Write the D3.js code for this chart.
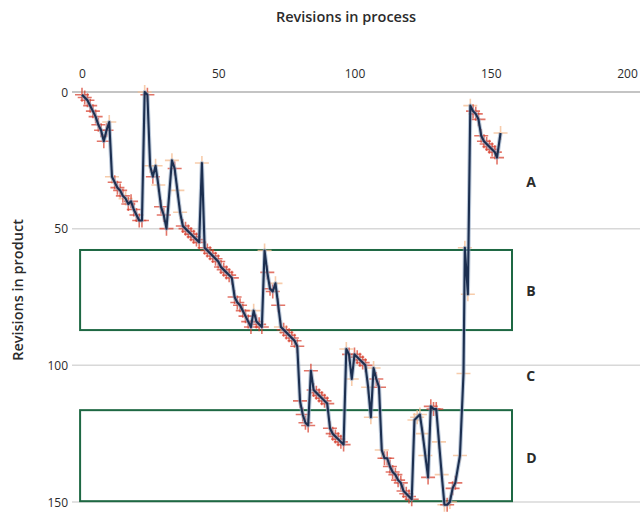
<!DOCTYPE html>
<html lang="en">
<head>
<meta charset="UTF-8">
<title>Revisions in process vs product</title>
<script src="https://d3js.org/d3.v7.min.js"></script>
<style>
  body { margin: 0; background: #fff; }
  text { font-family: "Open Sans", "Noto Sans", sans-serif; fill: #2b2b2b; }
</style>
</head>
<body>
<div id="chart"></div>
<script>
// revisions in process (x) and revisions in product (y), one entry per point
const processRev = [0,1,2,3,4,5,6,7,8,9,10,11,12,13,14,15,16,17,18,19,20,21,22,23,24,25,26,27,28,29,30,31,
  33,34,35,36,37,38,39,40,41,42,43,44,45,46,47,48,49,50,51,52,53,54,55,56,57,58,59,60,61,62,63,64,65,66,
  67,68,69,70,71,72,73,74,75,76,77,78,79,80,81,82,83,84,85,86,87,88,89,90,91,92,93,94,95,96,97,98,99,100,
  101,102,103,104,105,106,107,108,109,110,111,112,113,114,115,116,117,118,119,120,121,122,123,124,125,126,
  127,128,129,130,131,132,133,134,135,136,137,138.7,140,140.5,141.6,142.5,143.5,144.5,145.5,146.5,147.5,
  148.5,149.5,150.5,151.5,152.3,153.6];
const productRev = [1,2,3,5,7,9,12,14,18,14,11,31,33,35,36,38,39,41,40,43,45,47,47,0,1,27,31,27,34,42,45,50,
  25,28,36,44,49,50,51,52,53,54,55,26,57,58,59,60,61,62,64,65,66,67,68,75,77,78,80,82,84,86,80,84,85,86,
  58,66,72,73,70,78,86,87,88,89,90,91,93,113,118,121,122,102,109,110,111,112,113,114,123,125,126,127,128,129,94,96,105,96,
  97,98,99,100,108,119,101,105,108,131,134,134,137,139,140,142,143,146,147,148,149,120,119,118,125,133,
  141,115,116,116,128,140,151,151,150,145,143,133,103,57,74,5,7,8,10,16,18,
  19,20,21,22,24,15];
// r = dark red marker, p = pale marker
const markerType = ["r","r","r","r","r","r","r","r","r","r","p","p","r","r","r","r","p","r","r","r","r","r","r","p","r","p","r","p","p","r","r","r",
  "p","r","p","p","r","r","r","r","r","r","r","p","r","r","r","r","r","r","r","r","r","r","r","r","r","r","r","r","r","r","p","r","r","r",
  "p","r","r","r","p","r","p","r","r","r","r","r","r","r","r","r","r","r","r","r","r","r","r","r","r","r","r","r","r","r","p","r","p","r",
  "r","r","r","r","p","p","p","r","r","p","r","r","r","r","r","r","r","r","r","r","r","p","p","p","p","p",
  "r","r","r","r","p","p","p","r","p","r","r","p","p","p","p","p","r","r","r","r","r",
  "r","r","r","r","r","p"];

const xTicks = [0, 50, 100, 150, 200];
const yTicks = [0, 50, 100, 150];

// highlighted bands [x0, x1, y0, y1] in data units
const bands = [[-0.7, 157.8, 57.8, 87.1], [-0.7, 157.8, 116.4, 149.7]];
const zoneLabels = ["A", "B", "C", "D"];
const zoneLabelY = [33, 73, 104, 134];

const W = 643, H = 514;
const svg = d3.select("#chart").append("svg").attr("width", W).attr("height", H);

const x = d3.scaleLinear().domain([0, 200]).range([82, 627]);
const y = d3.scaleLinear().domain([0, 150]).range([92, 502]);

// grid lines
svg.append("g").selectAll("line")
  .data(yTicks)
  .join("line")
    .attr("x1", 72).attr("x2", 640)
    .attr("y1", d => y(d)).attr("y2", d => y(d))
    .attr("stroke", d => d === 0 ? "#8a8a8a" : "#d8d8d8")
    .attr("stroke-width", d => d === 0 ? 1.2 : 1.5);

// axes (labels only)
const xAxis = svg.append("g")
  .attr("transform", "translate(0,78)")
  .call(d3.axisTop(x).tickValues(xTicks).tickSize(0).tickPadding(0));
const yAxis = svg.append("g")
  .attr("transform", "translate(68,0)")
  .call(d3.axisLeft(y).tickValues(yTicks).tickSize(0).tickPadding(0));
[xAxis, yAxis].forEach(a => {
  a.select(".domain").remove();
  a.selectAll("text").style("font-size", "12px").attr("fill", "#2b2b2b");
});
yAxis.selectAll("text").attr("dy", "0.35em");

svg.append("text")
  .attr("x", 346).attr("y", 22)
  .attr("text-anchor", "middle")
  .style("font-size", "14.5px").style("font-weight", 600)
  .text("Revisions in process");

svg.append("text")
  .attr("transform", "translate(23,290) rotate(-90)")
  .attr("text-anchor", "middle")
  .style("font-size", "14.5px").style("font-weight", 600)
  .text("Revisions in product");

// bands
svg.append("g").selectAll("rect")
  .data(bands)
  .join("rect")
    .attr("x", d => x(d[0]))
    .attr("y", d => y(d[2]))
    .attr("width", d => x(d[1]) - x(d[0]))
    .attr("height", d => y(d[3]) - y(d[2]))
    .attr("fill", "none")
    .attr("stroke", "#1e6843")
    .attr("stroke-width", 2);

svg.append("g").selectAll("text")
  .data(zoneLabels)
  .join("text")
    .attr("x", x(163))
    .attr("y", (d, i) => y(zoneLabelY[i]))
    .attr("dy", "0.35em")
    .style("font-size", "14px").style("font-weight", 700)
    .text(d => d);

const pts = processRev.map((v, i) => ({x: v, y: productRev[i], t: markerType[i]}));

// cross markers
const cross = svg.append("g");
const arm = 7;
cross.selectAll("path")
  .data(pts.filter(d => d.t === "p").concat(pts.filter(d => d.t === "r")))
  .join("path")
    .attr("d", d => {
      const cx = x(d.x), cy = y(d.y);
      return `M${cx - arm},${cy}H${cx + arm}M${cx},${cy - arm}V${cy + arm}`;
    })
    .attr("stroke", d => d.t === "r" ? "#d63a28" : "#f5bf96")
    .attr("stroke-opacity", d => d.t === "r" ? 0.7 : 0.8)
    .attr("stroke-width", 1.6)
    .attr("fill", "none");

const line = d3.line().x(d => x(d.x)).y(d => y(d.y));

svg.append("path")
  .datum(pts)
  .attr("d", line)
  .attr("fill", "none")
  .attr("stroke", "#8ea3c0")
  .attr("stroke-opacity", 0.6)
  .attr("stroke-width", 4.2)
  .attr("stroke-linejoin", "round");

svg.append("path")
  .datum(pts)
  .attr("d", line)
  .attr("fill", "none")
  .attr("stroke", "#1c2f50")
  .attr("stroke-width", 2.1)
  .attr("stroke-linejoin", "round");
</script>
</body>
</html>
